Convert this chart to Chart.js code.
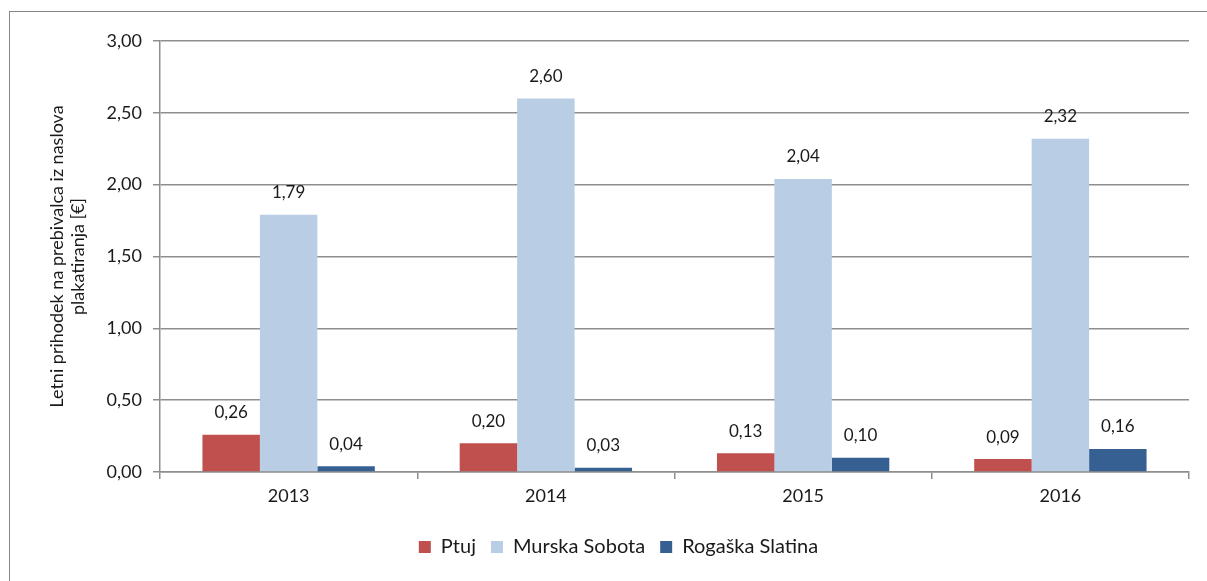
<!DOCTYPE html>
<html lang="sl">
<head>
<meta charset="utf-8">
<title>Letni prihodek na prebivalca iz naslova plakatiranja</title>
<script src="https://cdn.jsdelivr.net/npm/chart.js@4/dist/chart.umd.min.js"></script>
<style>
  html, body { margin: 0; padding: 0; background: #fff; }
  #wrap { width: 1207px; height: 581px; }
</style>
</head>
<body>
<div id="wrap"><canvas id="income" width="1207" height="581"></canvas></div>
<script>
const years = ["2013", "2014", "2015", "2016"];
const ptuj = [0.26, 0.20, 0.13, 0.09];
const murskaSobota = [1.79, 2.60, 2.04, 2.32];
const rogaskaSlatina = [0.04, 0.03, 0.10, 0.16];
const axisTitle = ["Letni prihodek na prebivalca iz naslova", "plakatiranja [€]"];

const gridColor = "#8e8e8e";
const fontFamily = "Lato, 'Open Sans', sans-serif";

function formatComma(value) {
  return value.toFixed(2).replace(".", ",");
}

// grey frame around the whole chart
const framePlugin = {
  id: "frame",
  beforeDraw(chart) {
    const { ctx } = chart;
    ctx.save();
    ctx.strokeStyle = "#868686";
    ctx.lineWidth = 1;
    ctx.strokeRect(9.5, 11.5, 1400, 800);
    ctx.restore();
  },
};

// nudge the legend a bit to the right of the canvas centre
const legendShift = {
  id: "legendShift",
  afterLayout(chart) {
    if (chart.legend) {
      chart.legend.left += 24;
      chart.legend.right += 24;
    }
  },
};

// value printed above each bar
const valueLabels = {
  id: "valueLabels",
  afterDatasetsDraw(chart) {
    const { ctx } = chart;
    ctx.save();
    ctx.font = "17px " + fontFamily;
    ctx.fillStyle = "#1a1a1a";
    ctx.textAlign = "center";
    ctx.textBaseline = "middle";
    chart.data.datasets.forEach((dataset, i) => {
      chart.getDatasetMeta(i).data.forEach((bar, j) => {
        ctx.fillText(formatComma(dataset.data[j]), bar.x, bar.y - 22);
      });
    });
    ctx.restore();
  },
};

const canvas = document.querySelector("#income");

new Chart(canvas, {
  type: "bar",
  data: {
    labels: years,
    datasets: [
      { label: "Ptuj", data: ptuj, backgroundColor: "#c0504d" },
      { label: "Murska Sobota", data: murskaSobota, backgroundColor: "#b9cde5" },
      { label: "Rogaška Slatina", data: rogaskaSlatina, backgroundColor: "#376092" },
    ],
  },
  options: {
    responsive: false,
    animation: false,
    devicePixelRatio: 1,
    datasets: {
      bar: { barPercentage: 1, categoryPercentage: 0.67 },
    },
    layout: { padding: { top: 41, right: 18, bottom: 14, left: 0 } },
    plugins: {
      tooltip: { enabled: false },
      legend: {
        position: "bottom",
        labels: {
          boxWidth: 12,
          boxHeight: 12,
          padding: 15,
          color: "#1a1a1a",
          font: { family: fontFamily, size: 20 },
        },
      },
    },
    scales: {
      x: {
        grid: {
          drawOnChartArea: false,
          drawTicks: true,
          tickLength: 7,
          color: gridColor,
          lineWidth: 1.5,
        },
        border: { color: gridColor, width: 1.5 },
        ticks: {
          color: "#1a1a1a",
          padding: 6,
          font: { family: fontFamily, size: 18 },
        },
        afterFit(scale) {
          scale.height = 50;
        },
      },
      y: {
        min: 0,
        max: 3,
        ticks: {
          stepSize: 0.5,
          color: "#1a1a1a",
          padding: 11,
          font: { family: fontFamily, size: 18 },
          callback: (value) => formatComma(value),
        },
        grid: { color: gridColor, lineWidth: 1.5, tickLength: 7 },
        border: { color: gridColor, width: 1.5 },
        title: {
          display: true,
          text: axisTitle,
          color: "#1a1a1a",
          font: { family: fontFamily, size: 18 },
          padding: { top: 46, bottom: 0 },
        },
        afterFit(scale) {
          scale.width = 160;
        },
      },
    },
  },
  plugins: [framePlugin, legendShift, valueLabels],
});
</script>
</body>
</html>
